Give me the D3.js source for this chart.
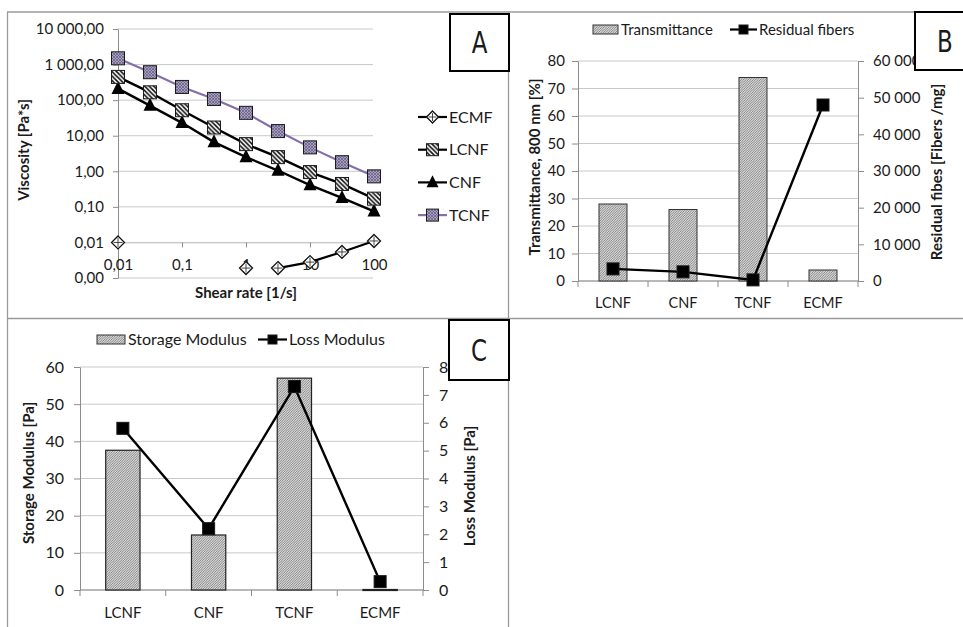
<!DOCTYPE html>
<html><head><meta charset="utf-8">
<script src="https://cdnjs.cloudflare.com/ajax/libs/d3/7.8.5/d3.min.js"></script>
<style>
body{margin:0;background:#fff;}
text{font-family:Lato,"Open Sans",sans-serif;fill:#1a1a1a;}
</style></head><body>
<script>
// ---------- DATA ----------
const shearRates = [0.01, 0.0316, 0.1, 0.316, 1, 3.16, 10, 31.6, 100];
const tcnfViscosity = [1500, 610, 235, 108, 44, 13.5, 4.7, 1.8, 0.72];
const lcnfViscosity = [450, 166, 52, 17, 5.8, 2.5, 0.95, 0.44, 0.17];
const cnfViscosity  = [210, 70, 23, 6.6, 2.5, 1.05, 0.41, 0.18, 0.075];
const ecmfViscosity = [0.01, null, null, null, 0.0019, 0.0019, 0.0028, 0.0054, 0.011];
const ecmfConnected = [false, false, false, false, false, true, true, true, true];
const viscosityTicks = [0.001, 0.01, 0.1, 1, 10, 100, 1000, 10000];
const shearTicks = [0.01, 0.1, 1, 10, 100];

const categories = ["LCNF", "CNF", "TCNF", "ECMF"];
const transmittance = [28, 26, 74, 4];
const residualFibers = [3300, 2500, 300, 48000];
const transTicks = [0, 10, 20, 30, 40, 50, 60, 70, 80];
const fiberTicks = [0, 10000, 20000, 30000, 40000, 50000, 60000];

const storageModulus = [37.6, 14.8, 57, 0];
const lossModulus = [5.8, 2.2, 7.3, 0.3];
const storageTicks = [0, 10, 20, 30, 40, 50, 60];
const lossTicks = [0, 1, 2, 3, 4, 5, 6, 7, 8];

// ---------- SETUP ----------
const W = 963, H = 627;
const svg = d3.select("body").append("svg").attr("width", W).attr("height", H);
svg.append("rect").attr("width", W).attr("height", H).attr("fill", "#fff");
const locale = d3.formatLocale({decimal: ",", thousands: " ", grouping: [3], currency: ["", ""]});
const fmt2 = locale.format(",.2f");
const fmt0 = locale.format(",.0f");
const GRID = "#c9c9c9", AXIS = "#8c8c8c";

const defs = svg.append("defs");
// bar hatch
const pb = defs.append("pattern").attr("id", "hatchBar").attr("patternUnits", "userSpaceOnUse").attr("width", 2.4).attr("height", 2.4);
pb.append("rect").attr("width", 2.4).attr("height", 2.4).attr("fill", "#d9d9d9");
pb.append("path").attr("d", "M-1,1 L1,-1 M0,2.4 L2.4,0 M1.4,3.4 L3.4,1.4").attr("stroke", "#6a6a6a").attr("stroke-width", 0.75);
// LCNF marker hatch
const pl = defs.append("pattern").attr("id", "hatchL").attr("patternUnits", "userSpaceOnUse").attr("width", 4.5).attr("height", 4.5);
pl.append("rect").attr("width", 4.5).attr("height", 4.5).attr("fill", "#fff");
pl.append("path").attr("d", "M0,0 L4.5,4.5 M3.5,-1 L5.5,1 M-1,3.5 L1,5.5").attr("stroke", "#111").attr("stroke-width", 1.6);
// TCNF marker hatch
const pt = defs.append("pattern").attr("id", "hatchT").attr("patternUnits", "userSpaceOnUse").attr("width", 3).attr("height", 3);
pt.append("rect").attr("width", 3).attr("height", 3).attr("fill", "#a99fc2");
pt.append("path").attr("d", "M0,0 L3,3 M3,0 L0,3").attr("stroke", "#625a78").attr("stroke-width", 0.7);

// panel frame lines
const frame = svg.append("g").attr("stroke", "#9a9a9a").attr("stroke-width", 1.3);
frame.append("line").attr("x1", 7).attr("x2", W).attr("y1", 12).attr("y2", 12);
frame.append("line").attr("x1", 7).attr("x2", W).attr("y1", 318.5).attr("y2", 318.5);
frame.append("line").attr("x1", 7.5).attr("x2", 7.5).attr("y1", 12).attr("y2", H);
frame.append("line").attr("x1", 508.5).attr("x2", 508.5).attr("y1", 12).attr("y2", H);

function styleAxis(g) {
  g.selectAll("path.domain").attr("stroke", AXIS);
  g.selectAll(".tick line").attr("stroke", AXIS);
  g.selectAll("text").attr("fill", "#1a1a1a").style("font-family", "Lato, sans-serif");
}
function letterBox(x, y, w, h, txt) {
  svg.append("rect").attr("x", x).attr("y", y).attr("width", w).attr("height", h)
    .attr("fill", "#fff").attr("stroke", "#000").attr("stroke-width", 2);
  svg.append("text").attr("x", x + w / 2).attr("y", y + h / 2 + 11).attr("text-anchor", "middle")
    .style("font-family", "'DejaVu Sans Condensed','Noto Sans',sans-serif").style("font-weight", 300)
    .attr("font-size", 30).attr("transform", `translate(${x + w / 2},0) scale(0.85,1) translate(${-(x + w / 2)},0)`).text(txt);
}
function vTitle(x, y, txt) {
  svg.append("text").attr("transform", `translate(${x},${y}) rotate(-90)`).attr("text-anchor", "middle")
    .attr("dy", "0.35em").attr("font-size", 15).attr("font-weight", "bold").text(txt);
}
function sqMarker(g, x, y, s, fill) {
  g.append("rect").attr("x", x - s / 2).attr("y", y - s / 2).attr("width", s).attr("height", s)
    .attr("fill", fill).attr("stroke", "#1a1a1a").attr("stroke-width", 1);
}
function triMarker(g, x, y, s) {
  g.append("path").attr("d", `M${x},${y - s * 0.6} L${x + s / 2},${y + s * 0.4} L${x - s / 2},${y + s * 0.4} Z`).attr("fill", "#000");
}
function diaMarker(g, x, y, s) {
  const r = s / 2;
  g.append("path").attr("d", `M${x},${y - r} L${x + r},${y} L${x},${y + r} L${x - r},${y} Z`)
    .attr("fill", "#fff").attr("stroke", "#111").attr("stroke-width", 1.3);
  g.append("path").attr("d", `M${x},${y - r + 2} V${y + r - 2} M${x - r + 2},${y} H${x + r - 2}`)
    .attr("stroke", "#333").attr("stroke-width", 0.9);
}

// ---------- PANEL A ----------
const xA = d3.scaleLog().domain([0.01, 100]).range([118, 374]);
const yA = d3.scaleLog().domain([0.001, 10000]).range([278, 29]);
const gA = svg.append("g");
gA.selectAll("line.grid").data(viscosityTicks).join("line")
  .attr("x1", 118).attr("x2", 373).attr("y1", d => yA(d)).attr("y2", d => yA(d))
  .attr("stroke", GRID).attr("stroke-width", 1);
const axYA = gA.append("g").attr("transform", "translate(118,0)")
  .call(d3.axisLeft(yA).tickValues(viscosityTicks).tickFormat(fmt2).tickSize(5).tickSizeOuter(0).tickPadding(9));
axYA.selectAll("text").attr("font-size", 15);
styleAxis(axYA);
const axXA = gA.append("g").attr("transform", `translate(0,${yA(0.01)})`)
  .call(d3.axisBottom(xA).tickValues(shearTicks).tickFormat(d => locale.format(",")(d).replace(".", ",")).tickSize(5).tickSizeOuter(0).tickPadding(12));
axXA.selectAll("text").attr("font-size", 15);
styleAxis(axXA);
axXA.select("path.domain").attr("stroke", GRID);
vTitle(24, 150, "Viscosity [Pa*s]");
svg.append("text").attr("x", 246).attr("y", 298).attr("text-anchor", "middle").attr("font-size", 15).attr("font-weight", "bold").text("Shear rate [1/s]");

function seriesPts(vals) { return shearRates.map((r, i) => ({x: xA(r), y: vals[i] == null ? null : yA(vals[i]), i})); }
const lineGen = d3.line().x(d => d.x).y(d => d.y);
const tP = seriesPts(tcnfViscosity);
gA.append("path").attr("d", lineGen(tP)).attr("fill", "none").attr("stroke", "#8470a8").attr("stroke-width", 2.2);
const lP = seriesPts(lcnfViscosity);
gA.append("path").attr("d", lineGen(lP)).attr("fill", "none").attr("stroke", "#000").attr("stroke-width", 2.4);
const cP = seriesPts(cnfViscosity);
gA.append("path").attr("d", lineGen(cP)).attr("fill", "none").attr("stroke", "#000").attr("stroke-width", 2.4);
const eP = seriesPts(ecmfViscosity);
gA.append("path").attr("d", d3.line().defined(d => d.y != null && ecmfConnected[d.i]).x(d => d.x).y(d => d.y)(eP))
  .attr("fill", "none").attr("stroke", "#000").attr("stroke-width", 2.2);
cP.forEach(p => triMarker(gA, p.x, p.y, 13));
lP.forEach(p => sqMarker(gA, p.x, p.y, 13, "url(#hatchL)"));
tP.forEach(p => sqMarker(gA, p.x, p.y, 13, "url(#hatchT)"));
eP.filter(p => p.y != null).forEach(p => diaMarker(gA, p.x, p.y, 13));

const legA = [
  {name: "ECMF", color: "#000", m: (g, x, y) => diaMarker(g, x, y, 12)},
  {name: "LCNF", color: "#000", m: (g, x, y) => sqMarker(g, x, y, 12, "url(#hatchL)")},
  {name: "CNF", color: "#000", m: (g, x, y) => triMarker(g, x, y, 12)},
  {name: "TCNF", color: "#8470a8", m: (g, x, y) => sqMarker(g, x, y, 12, "url(#hatchT)")}
];
legA.forEach((d, i) => {
  const y = 117 + i * 32.7;
  gA.append("line").attr("x1", 418).attr("x2", 447).attr("y1", y).attr("y2", y).attr("stroke", d.color).attr("stroke-width", 2.2);
  d.m(gA, 432.5, y);
  gA.append("text").attr("x", 449).attr("y", y).attr("dy", "0.36em").attr("font-size", 16).text(d.name);
});
letterBox(450, 14, 59, 57, "A");

// ---------- PANEL B ----------
const xB = d3.scaleBand().domain(categories).range([578, 858]);
const yB = d3.scaleLinear().domain([0, 80]).range([281, 61]);
const yB2 = d3.scaleLinear().domain([0, 60000]).range([281, 61]);
const gB = svg.append("g");
gB.selectAll("line.grid").data(transTicks).join("line")
  .attr("x1", 578).attr("x2", 858).attr("y1", d => yB(d)).attr("y2", d => yB(d)).attr("stroke", GRID);
const axB1 = gB.append("g").attr("transform", "translate(578,0)")
  .call(d3.axisLeft(yB).tickValues(transTicks).tickSize(6).tickSizeOuter(0).tickPadding(7));
axB1.selectAll("text").attr("font-size", 15);
styleAxis(axB1);
const axB2 = gB.append("g").attr("transform", "translate(858,0)")
  .call(d3.axisRight(yB2).tickValues(fiberTicks).tickFormat(fmt0).tickSize(6).tickSizeOuter(0).tickPadding(9));
axB2.selectAll("text").attr("font-size", 15);
styleAxis(axB2);
gB.append("line").attr("x1", 578).attr("x2", 858).attr("y1", 281).attr("y2", 281).attr("stroke", AXIS);
d3.range(5).forEach(i => {
  const x = 578 + i * xB.step();
  gB.append("line").attr("x1", x).attr("x2", x).attr("y1", 281).attr("y2", 287).attr("stroke", AXIS);
});
categories.forEach(c => gB.append("text").attr("x", xB(c) + xB.bandwidth() / 2).attr("y", 303).attr("dy", "0.35em")
  .attr("text-anchor", "middle").attr("font-size", 14.5).text(c));
const bwB = xB.bandwidth() * 0.4;
gB.selectAll("rect.bar").data(categories).join("rect")
  .attr("x", c => xB(c) + xB.bandwidth() / 2 - bwB / 2).attr("width", bwB)
  .attr("y", (c, i) => yB(transmittance[i])).attr("height", (c, i) => Math.max(0.5, 281 - yB(transmittance[i])))
  .attr("fill", "url(#hatchBar)").attr("stroke", "#333").attr("stroke-width", 1);
const rfPts = categories.map((c, i) => ({x: xB(c) + xB.bandwidth() / 2, y: yB2(residualFibers[i])}));
gB.append("path").attr("d", lineGen(rfPts)).attr("fill", "none").attr("stroke", "#000").attr("stroke-width", 2.4);
rfPts.forEach(p => sqMarker(gB, p.x, p.y, 12, "#000"));
vTitle(535, 167, "Transmittance, 800 nm [%]");
vTitle(937, 172, "Residual fibes [Fibers /mg]");
gB.append("rect").attr("x", 593).attr("y", 25).attr("width", 25).attr("height", 9).attr("fill", "url(#hatchBar)").attr("stroke", "#333");
gB.append("text").attr("x", 621).attr("y", 29.5).attr("dy", "0.35em").attr("font-size", 15).text("Transmittance");
gB.append("line").attr("x1", 730).attr("x2", 757).attr("y1", 29.5).attr("y2", 29.5).attr("stroke", "#000").attr("stroke-width", 2.2);
sqMarker(gB, 743.5, 29.5, 9, "#000");
gB.append("text").attr("x", 759).attr("y", 29.5).attr("dy", "0.35em").attr("font-size", 15).text("Residual fibers");
letterBox(915, 12, 60, 58, "B");

// ---------- PANEL C ----------
const xC = d3.scaleBand().domain(categories).range([80, 423]);
const yC = d3.scaleLinear().domain([0, 60]).range([590, 367]);
const yC2 = d3.scaleLinear().domain([0, 8]).range([590, 367]);
const gC = svg.append("g");
gC.selectAll("line.grid").data(storageTicks).join("line")
  .attr("x1", 80).attr("x2", 423).attr("y1", d => yC(d)).attr("y2", d => yC(d)).attr("stroke", GRID);
const axC1 = gC.append("g").attr("transform", "translate(80,0)")
  .call(d3.axisLeft(yC).tickValues(storageTicks).tickSize(6).tickSizeOuter(0).tickPadding(10));
axC1.selectAll("text").attr("font-size", 16);
styleAxis(axC1);
const axC2 = gC.append("g").attr("transform", "translate(423,0)")
  .call(d3.axisRight(yC2).tickValues(lossTicks).tickSize(6).tickSizeOuter(0).tickPadding(10));
axC2.selectAll("text").attr("font-size", 16);
styleAxis(axC2);
gC.append("line").attr("x1", 80).attr("x2", 423).attr("y1", 590).attr("y2", 590).attr("stroke", AXIS);
d3.range(5).forEach(i => {
  const x = 80 + i * xC.step();
  gC.append("line").attr("x1", x).attr("x2", x).attr("y1", 590).attr("y2", 596).attr("stroke", AXIS);
});
categories.forEach(c => gC.append("text").attr("x", xC(c) + xC.bandwidth() / 2).attr("y", 613).attr("dy", "0.35em")
  .attr("text-anchor", "middle").attr("font-size", 15).text(c));
const bwC = xC.bandwidth() * 0.4;
gC.selectAll("rect.bar").data(categories).join("rect")
  .attr("x", c => xC(c) + xC.bandwidth() / 2 - bwC / 2).attr("width", bwC)
  .attr("y", (c, i) => yC(storageModulus[i]) - (storageModulus[i] === 0 ? 0.5 : 0))
  .attr("height", (c, i) => Math.max(1, 590 - yC(storageModulus[i])))
  .attr("fill", "url(#hatchBar)").attr("stroke", "#222").attr("stroke-width", 1.2);
const lmPts = categories.map((c, i) => ({x: xC(c) + xC.bandwidth() / 2, y: yC2(lossModulus[i])}));
gC.append("path").attr("d", lineGen(lmPts)).attr("fill", "none").attr("stroke", "#000").attr("stroke-width", 2.4);
lmPts.forEach(p => sqMarker(gC, p.x, p.y, 12, "#000"));
vTitle(29, 473, "Storage Modulus [Pa]");
vTitle(470, 486, "Loss Modulus [Pa]");
gC.append("rect").attr("x", 97).attr("y", 335).attr("width", 28).attr("height", 9).attr("fill", "url(#hatchBar)").attr("stroke", "#333");
gC.append("text").attr("x", 128).attr("y", 339.5).attr("dy", "0.35em").attr("font-size", 16).text("Storage Modulus");
gC.append("line").attr("x1", 258).attr("x2", 287).attr("y1", 339.5).attr("y2", 339.5).attr("stroke", "#000").attr("stroke-width", 2.2);
sqMarker(gC, 272.5, 339.5, 9, "#000");
gC.append("text").attr("x", 289).attr("y", 339.5).attr("dy", "0.35em").attr("font-size", 16).text("Loss Modulus");
letterBox(449, 320, 60, 60, "C");
</script>
</body></html>
